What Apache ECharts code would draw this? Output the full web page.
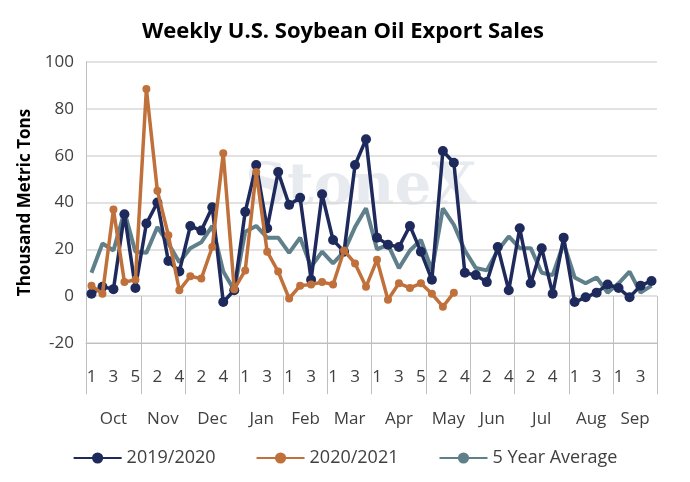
<!DOCTYPE html><html><head><meta charset="utf-8"><script src="https://cdn.jsdelivr.net/npm/echarts@6/dist/echarts.min.js"></script>
<style>html,body{margin:0;padding:0;background:#fff}#c{width:690px;height:482px}</style></head><body><div id="c"></div><script>
const weeks=[1,2,3,4,5, 1,2,3,4, 1,2,3,4,5, 1,2,3,4, 1,2,3,4, 1,2,3,4, 1,2,3,4,5, 1,2,3,4, 1,2,3,4, 1,2,3,4,5, 1,2,3,4, 1,2,3,4];
const months=['Oct','Nov','Dec','Jan','Feb','Mar','Apr','May','Jun','Jul','Aug','Sep'];
const monthCenters=[2.5,7,11.5,16,20,24,28.5,33,37,41.5,46,50];
const monthBounds=[0,5,9,14,18,22,26,31,35,39,44,48,52];
const s1920=[1,4,3,35,3.5,31,40,15,10.5,30,28,38,-2.5,2.5,36,56,29,53,39,42,7,43.5,24,19,56,67,25,22,21,30,19,7,62,57,10,9,6,21,2.5,29,5.5,20.5,1,25,-2.5,-0.5,1.5,5,3.5,-0.5,4.5,6.5];
const s2021=[4.5,1,37,6,7,88.5,45,26,2.5,8.5,7.5,21,61,3,11,53,19,10.5,-1,4.5,5,6,5,19.5,14,4,15.5,-1.5,5.5,3.5,5.5,1,-4.5,1.5];
const s5yr=[10,22.5,19.5,36,19,18.5,29.5,22.5,14.5,20.5,23,30,10.5,2.5,27.5,30,25,25,18.5,25,12.5,19,14,19,29.5,37.5,20,22,12,19.5,24,11,37.5,30.5,19.5,12,11,19.5,25.5,20.5,20.5,10,9,22.5,8,5.5,8,1.5,5.5,10.5,1.5,4.5];
const names=['2019/2020','2020/2021','5 Year Average'];
const ch=echarts.init(document.getElementById('c'));
const g='#bfbfbf',txt='#404040';
const cats=weeks.map((w,i)=>i+'');
ch.setOption({
 animation:false,
 title:{text:'Weekly U.S. Soybean Oil Export Sales',left:338,top:16,textAlign:'center',textStyle:{fontFamily:'Open Sans',fontSize:22,fontWeight:'bold',color:'#000'}},
 graphic:[{type:'text',left:245,top:160,style:{text:'StoneX',font:'bold 58px "DejaVu Serif"',fill:'rgba(120,140,165,0.18)'}}],
 legend:{bottom:10,left:'center',itemWidth:48,itemGap:40,textStyle:{fontFamily:'Open Sans',fontSize:18,color:txt},data:names},
 grid:{left:86,right:33,top:62,bottom:139},
 xAxis:[
  {type:'category',data:cats,boundaryGap:true,axisLine:{onZero:false,lineStyle:{color:g}},
   axisTick:{interval:0,length:50,lineStyle:{color:g}},
   axisLabel:{interval:(i)=>i%2===0,formatter:(v)=>weeks[+v],margin:26,fontFamily:'Open Sans',fontSize:17,color:txt}},
  {type:'value',min:0,max:52,position:'bottom',axisLine:{show:false},splitLine:{show:false},
   axisTick:{show:true,customValues:monthBounds,length:98,lineStyle:{color:g}},
   axisLabel:{customValues:monthCenters,formatter:(v)=>months[monthCenters.indexOf(v)],margin:68,fontFamily:'Open Sans',fontSize:17,color:txt}}
 ],
 yAxis:{type:'value',min:-20,max:100,interval:20,name:'Thousand Metric Tons',nameLocation:'middle',nameGap:52,
  nameTextStyle:{fontFamily:'Open Sans',fontSize:17,fontWeight:'bold',color:'#000'},
  axisLine:{show:true,lineStyle:{color:g}},axisTick:{show:false},
  axisLabel:{fontFamily:'Open Sans',fontSize:17,color:txt,margin:12},splitLine:{lineStyle:{color:'#d9d9d9',width:1.5}}},
 series:[
  {name:names[0],type:'line',data:s1920,symbol:'circle',symbolSize:10,showAllSymbol:true,color:'#1f2a5c',lineStyle:{width:3.5},z:3},
  {name:names[1],type:'line',data:s2021,symbol:'circle',symbolSize:8,showAllSymbol:true,color:'#c0703a',lineStyle:{width:3.5},z:4},
  {name:names[2],type:'line',data:s5yr,symbol:'none',color:'#5f7f8a',lineStyle:{width:4},z:2}
 ]
});
</script></body></html>
